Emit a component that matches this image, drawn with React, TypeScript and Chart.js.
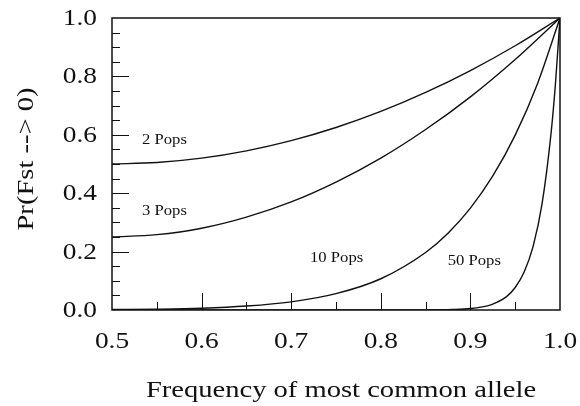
import React, { useEffect, useRef } from "react";
import { Chart, registerables } from "chart.js";

Chart.register(...registerables);

const xs23: number[] = [0.5, 0.55, 0.6, 0.65, 0.7, 0.75, 0.8, 0.85, 0.9, 0.95, 1.0];
const pops2: number[] = [0.5, 0.505, 0.52, 0.545, 0.58, 0.625, 0.68, 0.745, 0.82, 0.905, 1.0];
const pops3: number[] = [0.25, 0.258, 0.28, 0.318, 0.37, 0.438, 0.52, 0.618, 0.73, 0.858, 1.0];

const xs10: number[] = [0.5, 0.55, 0.6, 0.65, 0.7, 0.75, 0.8, 0.85, 0.875, 0.9, 0.925, 0.95, 0.975, 1.0];
const pops10: number[] = [0.002, 0.003, 0.006, 0.0135, 0.028, 0.056, 0.107, 0.197, 0.263, 0.349, 0.459, 0.599, 0.776, 1.0];

const xs50: number[] = [0.5, 0.6, 0.7, 0.8, 0.85, 0.88, 0.9, 0.92, 0.93, 0.94, 0.95, 0.96, 0.97, 0.98, 0.99, 0.995, 1.0];
const pops50: number[] = [0, 0, 0, 0.00001, 0.0003, 0.0017, 0.005, 0.015, 0.027, 0.045, 0.077, 0.13, 0.218, 0.364, 0.605, 0.778, 1.0];

const curveLabels: string[] = ["2 Pops", "3 Pops", "10 Pops", "50 Pops"];
const labelX: number[] = [0.5335, 0.5335, 0.721, 0.8746];
const labelY: number[] = [0.5685, 0.325, 0.165, 0.154];

const xTickLabels: number[] = [0.5, 0.6, 0.7, 0.8, 0.9, 1.0];
const yTickLabels: number[] = [0.0, 0.2, 0.4, 0.6, 0.8, 1.0];
const xMajorTicks: number[] = [0.6, 0.7, 0.8, 0.9];
const xMinorTicks: number[] = [0.55, 0.65, 0.75, 0.85, 0.95];
const yMajorTicks: number[] = [0.2, 0.4, 0.6, 0.8];
const yMinorTicks: number[] = [0.05, 0.1, 0.15, 0.25, 0.3, 0.35, 0.45, 0.5, 0.55, 0.65, 0.7, 0.75, 0.85, 0.9, 0.95];

const xTitle = "Frequency of most common allele";
const yTitle = "Pr(Fst --> 0)";

const FONT = "'Liberation Serif', 'DejaVu Serif', serif";
const STRETCH = 1.19;

const pts = (xs: number[], ys: number[]) => xs.map((x, i) => ({ x, y: ys[i] }));

function stretchedText(ctx: CanvasRenderingContext2D, t: string, x: number, y: number, align: "left" | "center" | "right", rot = 0) {
  ctx.save();
  ctx.translate(x, y);
  if (rot) ctx.rotate(rot);
  ctx.scale(STRETCH, 1);
  ctx.textAlign = align;
  ctx.textBaseline = "alphabetic";
  ctx.fillText(t, 0, 0);
  ctx.restore();
}

const framePlugin = {
  id: "frame",
  afterDatasetsDraw(chart: any) {
    const { ctx, chartArea: a, scales } = chart;
    const xS = scales.x;
    const yS = scales.y;
    ctx.save();
    ctx.strokeStyle = "#111";
    ctx.lineWidth = 1.5;
    ctx.strokeRect(a.left, a.top, a.right - a.left, a.bottom - a.top);
    ctx.lineWidth = 1;
    const xt = (v: number, len: number) => {
      const px = Math.round(xS.getPixelForValue(v)) + 0.5;
      ctx.beginPath();
      ctx.moveTo(px, a.bottom);
      ctx.lineTo(px, a.bottom - len);
      ctx.stroke();
    };
    const yt = (v: number, len: number) => {
      const py = Math.round(yS.getPixelForValue(v)) + 0.5;
      ctx.beginPath();
      ctx.moveTo(a.left, py);
      ctx.lineTo(a.left + len, py);
      ctx.stroke();
    };
    xMajorTicks.forEach((v) => xt(v, 17));
    xMinorTicks.forEach((v) => xt(v, 8));
    yMajorTicks.forEach((v) => yt(v, 17));
    yMinorTicks.forEach((v) => yt(v, 8));

    ctx.fillStyle = "#111";
    ctx.font = "23px " + FONT;
    xTickLabels.forEach((v) => {
      stretchedText(ctx, v.toFixed(1), xS.getPixelForValue(v), a.bottom + 38, "center");
    });
    yTickLabels.forEach((v) => {
      stretchedText(ctx, v.toFixed(1), a.left - 15, yS.getPixelForValue(v) + 7, "right");
    });

    ctx.font = "24px " + FONT;
    stretchedText(ctx, xTitle, (a.left + a.right) / 2 + 5, a.bottom + 87, "center");
    stretchedText(ctx, yTitle, 33, (a.top + a.bottom) / 2 - 5, "center", -Math.PI / 2);

    ctx.font = "14px " + FONT;
    curveLabels.forEach((t, i) => {
      stretchedText(ctx, t, xS.getPixelForValue(labelX[i]), yS.getPixelForValue(labelY[i]), "left");
    });
    ctx.restore();
  },
};

export default function App() {
  const ref = useRef<HTMLCanvasElement | null>(null);
  useEffect(() => {
    document.body.style.margin = "0";
    const line = (data: any) => ({
      data,
      borderColor: "#111",
      borderWidth: 1.4,
      pointRadius: 0,
      fill: false,
      cubicInterpolationMode: "monotone" as const,
    });
    const chart = new Chart(ref.current as HTMLCanvasElement, {
      type: "line",
      data: {
        datasets: [
          line(pts(xs23, pops2)),
          line(pts(xs23, pops3)),
          line(pts(xs10, pops10)),
          line(pts(xs50, pops50)),
        ],
      },
      options: {
        animation: false,
        responsive: false,
        devicePixelRatio: 1,
        layout: { padding: { left: 0, top: 18, right: 20, bottom: 0 } },
        plugins: { legend: { display: false }, tooltip: { enabled: false } },
        scales: {
          x: {
            type: "linear",
            min: 0.5,
            max: 1.0,
            grid: { display: false, drawTicks: false },
            border: { display: false },
            ticks: { display: false, stepSize: 0.1 },
            title: { display: false },
            afterFit: (s: any) => {
              s.height = 96;
            },
          },
          y: {
            type: "linear",
            min: 0,
            max: 1,
            grid: { display: false, drawTicks: false },
            border: { display: false },
            ticks: { display: false, stepSize: 0.2 },
            title: { display: false },
            afterFit: (s: any) => {
              s.width = 112;
            },
          },
        },
      },
      plugins: [framePlugin],
    });
    return () => chart.destroy();
  }, []);
  return (
    <div style={{ width: 580, height: 406 }}>
      <canvas ref={ref} width={580} height={406} style={{ display: "block" }} />
    </div>
  );
}
